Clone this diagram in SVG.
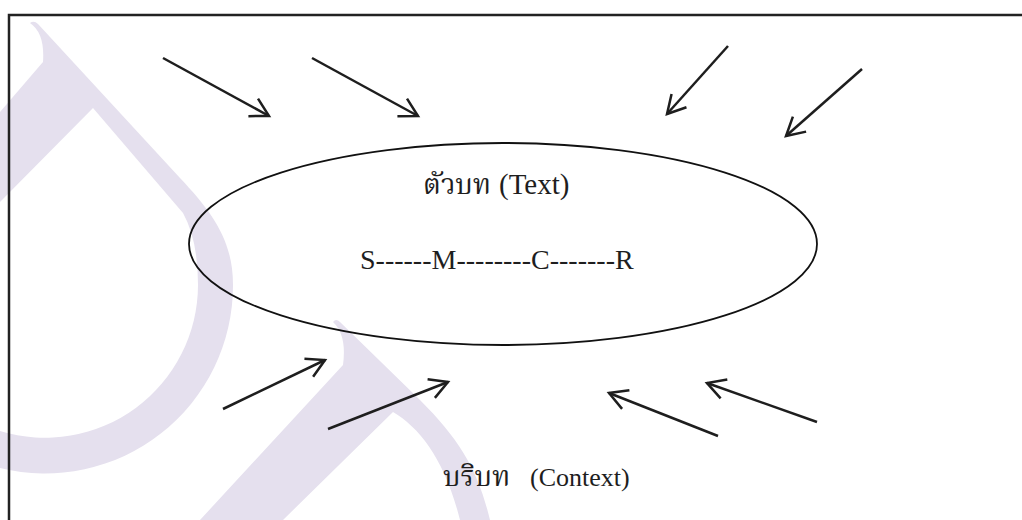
<svg xmlns="http://www.w3.org/2000/svg" width="1022" height="520" viewBox="0 0 1022 520">
  <style>
    .wm { fill: #e5e0ee; stroke: none; }
    .frame { fill: none; stroke: #222; stroke-width: 2.5; }
    .shape { fill: none; stroke: #111; stroke-width: 1.8; }
    .arrow { fill: none; stroke: #1e1e1e; stroke-width: 2.5; marker-end: url(#open); }
    .lbl { font-family: "Liberation Serif", "Noto Serif Thai", "Noto Sans Thai", "Tlwg Typo", serif; fill: #1e1e1e; }
  </style>
  <defs>
    <marker id="open" markerUnits="userSpaceOnUse" markerWidth="24" markerHeight="26" viewBox="0 0 24 26" refX="21" refY="13" orient="auto">
      <path d="M3,3 L21,13 L3,23" fill="none" stroke="#1e1e1e" stroke-width="2.5" stroke-linejoin="miter"/>
    </marker>
  </defs>
  <rect width="1022" height="520" fill="#ffffff"/>
  <g id="watermark">
    <path class="wm" d="M30,23 Q45,33 43,62 L0,112 L0,202 L93,108 L183,213 Q198,240 198,285 A153,153 0 0 1 0,431 L0,468 A188,188 0 0 0 233,285 C233,240 212,212 180,178 L38,24 Q34,20 30,23 Z"/>
    <path class="wm" d="M333,322 Q347,335 343,365 L200,520 L283,520 L393,412 C420,428 445,460 460,520 L490,520 C478,470 460,440 420,400 L340,322 Q336,318 333,322 Z"/>
  </g>
  <g id="frame">
    <path class="frame" d="M9,522 L9,15 L1024,15"/>
  </g>
  <g id="text-node">
    <ellipse class="shape" cx="503" cy="244" rx="314" ry="101"/>
    <text class="lbl" y="194" font-size="29"><tspan x="423" font-size="28">ตัวบท</tspan><tspan x="499">(Text)</tspan></text>
    <text class="lbl" x="360" y="269" font-size="28">S------M--------C-------R</text>
  </g>
  <g id="context-label">
    <text class="lbl" y="486" font-size="26"><tspan x="443" font-size="28">บริบท</tspan><tspan x="530">(Context)</tspan></text>
  </g>
  <g id="connectors">
    <line class="arrow" x1="163" y1="58" x2="269" y2="116"/>
    <line class="arrow" x1="312" y1="58" x2="418" y2="116"/>
    <line class="arrow" x1="728" y1="46" x2="667" y2="114"/>
    <line class="arrow" x1="862" y1="69" x2="786" y2="136"/>
    <line class="arrow" x1="223" y1="409" x2="325" y2="360"/>
    <line class="arrow" x1="328" y1="429" x2="448" y2="382"/>
    <line class="arrow" x1="718" y1="436" x2="609" y2="393"/>
    <line class="arrow" x1="817" y1="422" x2="707" y2="383"/>
  </g>
</svg>
